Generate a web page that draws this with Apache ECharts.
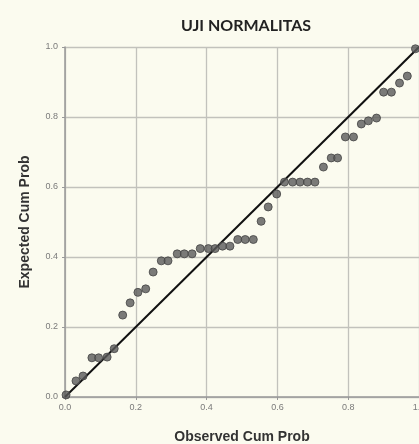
<!DOCTYPE html>
<html>
<head>
<meta charset="utf-8">
<script src="https://cdn.jsdelivr.net/npm/echarts@6/dist/echarts.min.js"></script>
<style>
html,body{margin:0;padding:0;background:#fbfbef;}
#chart{width:419px;height:444px;}
</style>
</head>
<body>
<div id="chart"></div>
<script>
var titleText = 'UJI NORMALITAS';
var xAxisName = 'Observed Cum Prob';
var yAxisName = 'Expected Cum Prob';
var tickValues = [0, 0.2, 0.4, 0.6, 0.8, 1.0];
var observed = [0.003,0.031,0.051,0.076,0.095,0.119,0.139,0.163,0.184,0.206,0.228,0.249,0.272,0.291,0.317,0.337,0.359,0.382,0.405,0.424,0.445,0.466,0.488,0.509,0.532,0.554,0.574,0.598,0.620,0.643,0.664,0.685,0.706,0.730,0.752,0.770,0.792,0.815,0.837,0.857,0.880,0.900,0.922,0.945,0.967,0.990];
var expected = [0.006,0.046,0.060,0.112,0.112,0.114,0.138,0.234,0.269,0.299,0.309,0.357,0.389,0.389,0.409,0.409,0.409,0.424,0.424,0.424,0.431,0.431,0.450,0.450,0.450,0.502,0.543,0.580,0.614,0.614,0.614,0.614,0.614,0.657,0.683,0.683,0.743,0.743,0.780,0.789,0.797,0.871,0.871,0.897,0.917,0.995];
var refLine = [[0,0],[1,1]];

var points = observed.map(function(v,i){return [v, expected[i]];});
var chart = echarts.init(document.getElementById('chart'));
function fmt(v){return v.toFixed(1);}
var axisCommon = {
  type:'value', min:tickValues[0], max:tickValues[tickValues.length-1], interval:0.2,
  axisLine:{show:true, lineStyle:{color:'#999', width:1.5}},
  axisTick:{show:true, length:3, lineStyle:{color:'#999'}},
  splitLine:{show:true, lineStyle:{color:'#c2c2bc', width:1.3}},
  axisLabel:{fontFamily:'Liberation Sans', fontSize:9, color:'#7a7a7a', formatter:fmt}
};
chart.setOption({
  backgroundColor:'#fbfbef',
  animation:false,
  title:{text:titleText, left:241, top:13, textAlign:'center',
    textStyle:{fontFamily:'Lato', fontWeight:'bold', fontSize:16, color:'#222'}},
  grid:{left:65, right:0, top:47, bottom:47, containLabel:false, outerBoundsMode:'none'},
  xAxis:Object.assign({}, axisCommon, {
    name:xAxisName, nameLocation:'middle', nameGap:33,
    nameTextStyle:{fontFamily:'Liberation Sans', fontWeight:'bold', fontSize:14, color:'#333'},
    axisLabel:Object.assign({}, axisCommon.axisLabel, {margin:6})
  }),
  yAxis:Object.assign({}, axisCommon, {
    name:yAxisName, nameLocation:'middle', nameGap:33,
    nameTextStyle:{fontFamily:'Liberation Sans', fontWeight:'bold', fontSize:14, color:'#333'},
    axisLabel:Object.assign({}, axisCommon.axisLabel, {margin:7})
  }),
  series:[
    {type:'line', data:refLine, showSymbol:false, symbol:'none',
      lineStyle:{color:'#111', width:2}, z:3},
    {type:'scatter', data:points, symbol:'circle', symbolSize:8,
      itemStyle:{color:'#5a5a5a', borderColor:'#444', borderWidth:1}, z:4}
  ]
});
</script>
</body>
</html>
